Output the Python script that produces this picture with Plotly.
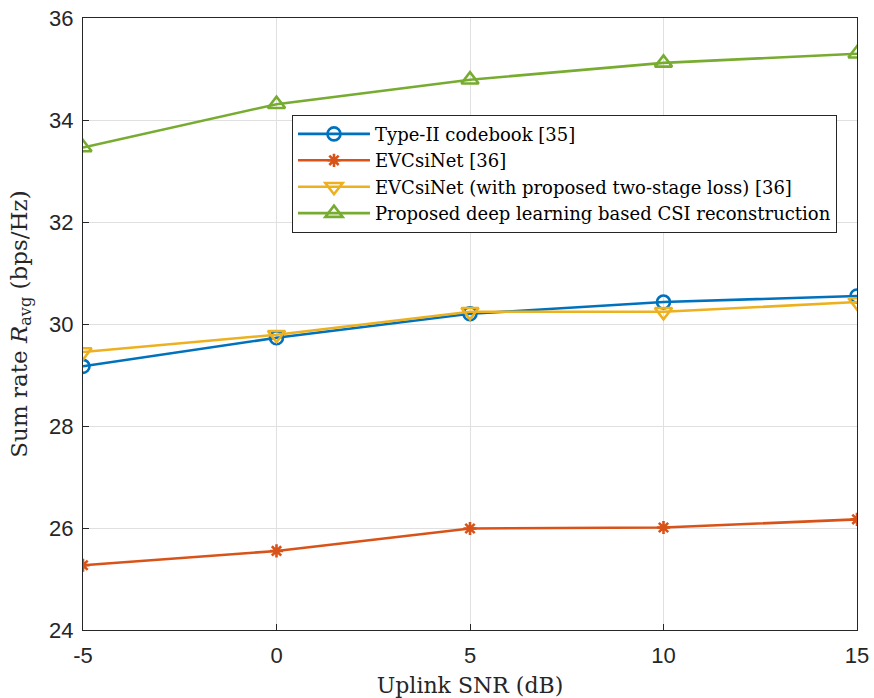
import plotly.graph_objects as go

snr = [-5, 0, 5, 10, 15]
snr_labels = ["-5", "0", "5", "10", "15"]
type2 = [29.17, 29.73, 30.20, 30.43, 30.55]
evcsinet = [25.27, 25.55, 25.99, 26.01, 26.17]
evc_two = [29.45, 29.79, 30.24, 30.24, 30.43]
proposed = [33.46, 34.31, 34.79, 35.12, 35.30]
rate_ticks = [24, 26, 28, 30, 32, 34, 36]

names = ["Type-II codebook [35]", "EVCsiNet [36]",
         "EVCsiNet (with proposed two-stage loss) [36]",
         "Proposed deep learning based CSI reconstruction"]
colors = ["#0072BD", "#D95319", "#EDB120", "#77AC30"]
symbols = ["circle-open", "asterisk-open", "triangle-down-open", "triangle-up-open"]
sizes = [13, 11, 15, 15]
series = [type2, evcsinet, evc_two, proposed]

fig = go.Figure()
for nm, c, s, sz, ys in zip(names, colors, symbols, sizes, series):
    fig.add_trace(go.Scatter(
        x=snr, y=ys, name=nm, mode="lines+markers",
        line=dict(color=c, width=2.6),
        marker=dict(symbol=s, size=sz, color=c, line=dict(color=c, width=2.6)),
    ))

axis_common = dict(
    showline=True, linecolor="#262626", linewidth=1, mirror=True,
    ticks="inside", ticklen=6, tickcolor="#262626",
    showgrid=True, gridcolor="#E0E0E0", gridwidth=1, zeroline=False,
    automargin=False,
    tickfont=dict(family="Liberation Sans, Arial", size=22, color="#262626"),
)
fig.update_xaxes(range=[-5, 15], tickvals=snr, ticktext=snr_labels, **axis_common,
                 ticklabelstandoff=6,
                 title=dict(text="Uplink SNR (dB)",
                            font=dict(family="DejaVu Serif, serif", size=22, color="#262626")))
fig.update_yaxes(range=[24, 36], tickvals=rate_ticks, **axis_common,
                 ticklabelstandoff=4,
                 title=dict(text="Sum rate <i>R</i><sub>avg</sub> (bps/Hz)",
                            font=dict(family="DejaVu Serif, serif", size=23, color="#262626")))

fig.update_layout(
    width=874, height=698,
    margin=dict(l=83, r=17, t=18, b=68),
    plot_bgcolor="white", paper_bgcolor="white",
    legend=dict(x=0.27, y=0.842, xanchor="left", yanchor="top",
                bgcolor="white", bordercolor="#262626", borderwidth=1,
                font=dict(family="DejaVu Serif, serif", size=18, color="#000000"),
                itemwidth=72, tracegroupgap=0),
)
fig.write_html("out.html")
